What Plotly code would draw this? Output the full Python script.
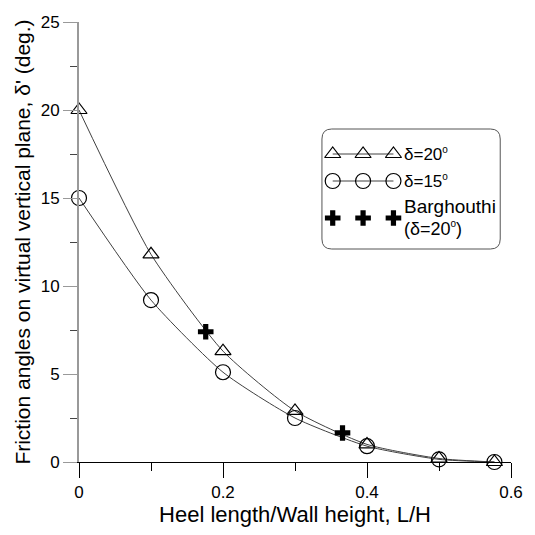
import plotly.graph_objects as go

# Heel length / wall height ratios
lh = [0.0, 0.1, 0.2, 0.3, 0.4, 0.5, 0.577]
# Friction angle on the virtual vertical plane (deg.)
delta20 = [20.0, 11.8, 6.3, 2.9, 1.0, 0.2, 0.0]
delta15 = [15.0, 9.2, 5.1, 2.5, 0.9, 0.15, 0.0]
# Barghouthi results (delta = 20 deg)
barg_lh = [0.176, 0.366]
barg_val = [7.4, 1.65]

FONT = "Liberation Sans, Arial, sans-serif"
LINE_COL = "#404040"
DEG = "<sup><span style='font-size:10px'>o</span></sup>"

fig = go.Figure()

fig.add_trace(go.Scatter(
    x=lh, y=delta20, mode="lines+markers", cliponaxis=False,
    line=dict(color=LINE_COL, width=1, shape="spline", smoothing=0.6),
    marker=dict(symbol="triangle-up-open", size=14, color="black", line=dict(width=1.2)),
    showlegend=False))
fig.add_trace(go.Scatter(
    x=lh, y=delta15, mode="lines+markers", cliponaxis=False,
    line=dict(color=LINE_COL, width=1, shape="spline", smoothing=0.6),
    marker=dict(symbol="circle-open", size=15, color="black", line=dict(width=1.2)),
    showlegend=False))
fig.add_trace(go.Scatter(
    x=barg_lh, y=barg_val, mode="markers", cliponaxis=False,
    marker=dict(symbol="cross", size=13, color="black", line=dict(width=0)),
    showlegend=False))

# Key drawn on a pixel-scaled overlay axis pair
KX = [338, 369, 400]
fig.add_trace(go.Scatter(
    x=KX, y=[154] * 3, xaxis="x2", yaxis="y2", mode="lines+markers",
    line=dict(color=LINE_COL, width=1),
    marker=dict(symbol="triangle-up-open", size=14, color="black", line=dict(width=1.2)),
    showlegend=False, hoverinfo="skip"))
fig.add_trace(go.Scatter(
    x=KX, y=[181] * 3, xaxis="x2", yaxis="y2", mode="lines+markers",
    line=dict(color=LINE_COL, width=1),
    marker=dict(symbol="circle-open", size=15, color="black", line=dict(width=1.2)),
    showlegend=False, hoverinfo="skip"))
fig.add_trace(go.Scatter(
    x=KX, y=[218] * 3, xaxis="x2", yaxis="y2", mode="markers",
    marker=dict(symbol="cross", size=13, color="black", line=dict(width=0)),
    showlegend=False, hoverinfo="skip"))

x0, x1, y0, y1, r = 327, 509, 129, 249, 10
box = (f"M {x0+r},{y0} L {x1-r},{y0} Q {x1},{y0} {x1},{y0+r} "
       f"L {x1},{y1-r} Q {x1},{y1} {x1-r},{y1} L {x0+r},{y1} "
       f"Q {x0},{y1} {x0},{y1-r} L {x0},{y0+r} Q {x0},{y0} {x0+r},{y0} Z")
fig.add_shape(type="path", path=box, xref="x2", yref="y2",
              line=dict(color="#555555", width=1), fillcolor="rgba(0,0,0,0)")

key_labels = [("δ=20" + DEG, 154, 17), ("δ=15" + DEG, 181, 17),
              ("Barghouthi", 206, 19), ("(δ=20" + DEG + ")", 228, 18)]
for txt, yy, fs in key_labels:
    fig.add_annotation(x=409, y=yy, xref="x2", yref="y2", text=txt,
                       showarrow=False, xanchor="left", yanchor="middle",
                       font=dict(family=FONT, size=fs, color="black"))

fig.update_layout(
    width=535, height=535,
    margin=dict(l=79, r=15, t=22, b=73),
    paper_bgcolor="white", plot_bgcolor="white",
    font=dict(family=FONT, size=17, color="black"),
    xaxis=dict(
        range=[0, 0.6], tickvals=[0, 0.2, 0.4, 0.6], ticktext=["0", "0.2", "0.4", "0.6"],
        showline=True, linecolor="black", linewidth=1, mirror=False,
        ticks="outside", ticklen=15, tickcolor="black", tickwidth=1,
        minor=dict(dtick=0.1, ticks="outside", ticklen=8, tickcolor="black"),
        showgrid=False, zeroline=False,
        title=dict(text="Heel length/Wall height, L/H", font=dict(size=22), standoff=4),
        tickfont=dict(size=17)),
    yaxis=dict(
        range=[0, 25], dtick=5,
        showline=True, linecolor="#999999", linewidth=2,
        ticks="outside", ticklen=14, tickcolor="#999999", tickwidth=1,
        minor=dict(dtick=2.5, ticks="outside", ticklen=7, tickcolor="#444444"),
        showgrid=False, zeroline=False,
        title=dict(text="Friction angles on virtual vertical plane, δ' (deg.)",
                   font=dict(size=21), standoff=4),
        tickfont=dict(size=17)),
    xaxis2=dict(range=[79, 520], domain=[0, 1], anchor="y2", overlaying="x",
                visible=False, fixedrange=True),
    yaxis2=dict(range=[462, 22], domain=[0, 1], anchor="x2", overlaying="y",
                visible=False, fixedrange=True),
)

fig.write_html("out.html")
